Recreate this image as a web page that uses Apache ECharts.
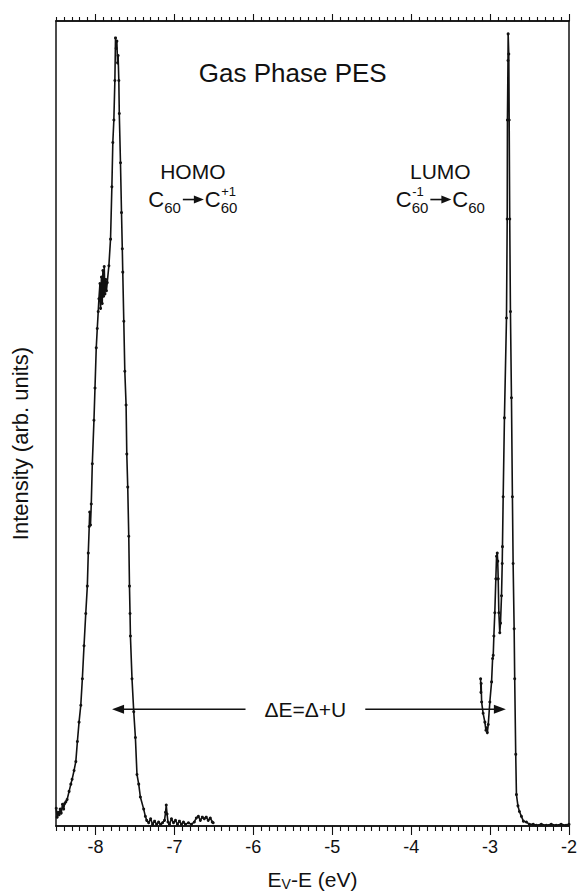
<!DOCTYPE html>
<html>
<head>
<meta charset="utf-8">
<style>
  html, body { margin: 0; padding: 0; background: #fff; }
  #chart { width: 580px; height: 896px; }
</style>
<script src="https://cdn.jsdelivr.net/npm/echarts@6/dist/echarts.min.js"></script>
</head>
<body>
<div id="chart"></div>
<script>
// Photoemission spectrum of gas-phase C60: HOMO band (C60 -> C60+) and LUMO band (C60- -> C60)
const homoEnergy = [
  -8.497, -8.485, -8.472, -8.460, -8.447, -8.434, -8.418, -8.403, -8.390, -8.375,
  -8.359, -8.334, -8.312, -8.296, -8.271, -8.249, -8.229, -8.208, -8.186, -8.166,
  -8.145, -8.123, -8.103, -8.091, -8.079, -8.073, -8.063, -8.053, -8.040, -8.019,
  -8.006, -7.990, -7.977, -7.965, -7.956, -7.943, -7.935, -7.924, -7.914, -7.906,
  -7.897, -7.889, -7.880, -7.872, -7.861, -7.851, -7.830, -7.809, -7.792, -7.780,
  -7.767, -7.754, -7.746, -7.738, -7.729, -7.720, -7.713, -7.704, -7.698, -7.683,
  -7.670, -7.660, -7.654, -7.641, -7.628, -7.612, -7.603, -7.591, -7.578, -7.569,
  -7.562, -7.557, -7.537, -7.515, -7.494, -7.474, -7.452, -7.431, -7.389, -7.368,
  -7.351, -7.326, -7.301, -7.276, -7.251, -7.225, -7.200, -7.175, -7.150, -7.125,
  -7.112, -7.103, -7.093, -7.081, -7.062, -7.037, -7.011, -6.986, -6.961, -6.936,
  -6.911, -6.885, -6.860, -6.822, -6.785, -6.747, -6.722, -6.696, -6.671, -6.646,
  -6.621, -6.596, -6.571, -6.545, -6.520, -6.508
];
const homoIntensity = [
  2.2, 1.1, 1.7, 1.4, 2.1, 1.6, 2.7, 2.1, 2.8, 3.0,
  3.3, 4.3, 5.2, 5.8, 6.9, 8.0, 10.5, 12.9, 15.0, 18.3,
  22.4, 26.4, 29.8, 33.9, 37.2, 39.0, 37.4, 40.0, 45.0, 50.4,
  54.4, 59.4, 61.8, 63.9, 65.5, 67.4, 64.3, 68.2, 64.9, 69.0,
  65.8, 69.5, 66.1, 67.9, 66.5, 67.5, 69.6, 72.9, 79.4, 84.9,
  87.7, 92.6, 97.9, 96.6, 97.5, 94.8, 95.7, 92.6, 88.5, 82.4,
  76.2, 71.7, 68.8, 62.7, 56.5, 52.3, 46.2, 42.1, 36.0, 29.8,
  26.4, 23.6, 18.3, 14.2, 11.0, 6.4, 5.2, 3.6, 2.1, 1.2,
  0.7, 0.4, 0.9, 0.2, 0.6, 0.2, 0.5, 0.2, 0.4, 0.7,
  1.7, 2.6, 1.5, 0.5, 0.2, 0.9, 0.4, 0.7, 0.2, 0.6,
  0.2, 0.5, 0.2, 0.4, 0.2, 0.5, 1.0, 1.2, 0.7, 1.1,
  0.9, 1.1, 0.7, 1.0, 0.5, 0.4
];
const lumoEnergy = [
  -3.120, -3.116, -3.113, -3.107, -3.088, -3.066, -3.053, -3.044, -3.035, -3.023,
  -3.003, -2.981, -2.968, -2.960, -2.952, -2.940, -2.927, -2.918, -2.909, -2.903,
  -2.897, -2.889, -2.877, -2.868, -2.855, -2.846, -2.843, -2.834, -2.818, -2.792,
  -2.783, -2.780, -2.773, -2.771, -2.763, -2.758, -2.751, -2.742, -2.729, -2.717,
  -2.708, -2.695, -2.688, -2.675, -2.666, -2.647, -2.628, -2.603, -2.578, -2.540,
  -2.502, -2.453, -2.414, -2.351, -2.288, -2.225, -2.163, -2.100, -2.037, -2.000
];
const lumoIntensity = [
  18.3, 16.6, 17.7, 15.4, 14.0, 12.9, 11.9, 12.2, 11.6, 12.6,
  15.4, 17.9, 20.8, 21.2, 23.6, 26.5, 30.7, 33.5, 33.9, 32.9,
  30.7, 26.5, 24.0, 25.2, 28.6, 32.6, 34.7, 40.9, 50.7, 63.1,
  75.4, 87.7, 95.1, 98.4, 95.9, 87.7, 75.4, 63.9, 53.2, 40.9,
  32.6, 24.5, 18.3, 8.9, 3.9, 2.5, 1.8, 1.2, 0.6, 0.5,
  0.2, 0.2, 0.1, 0.2, 0.1, 0.2, 0.1, 0.2, 0.1, 0.2
];

// Energy axis: labelled whole-eV ticks plus 0.1 eV minor ticks
const majorTicks = [-8, -7, -6, -5, -4, -3, -2];
const minorTicks = [];
for (let k = -85; k <= -20; k++) {
  if (k % 10 !== 0) minorTicks.push(k / 10);
}
const xRange = [-8.5, -2];

// Gap covered by the double arrow: HOMO onset side to LUMO side
const gapArrow = { from: -7.79, to: -2.80, level: 14.5, textAt: -5.34, text: 'ΔE=Δ+U' };

const FONT = '"Liberation Sans", Arial, Helvetica, sans-serif';
const INK = '#111';

const pair = (xs, ys) => xs.map((x, i) => [x, ys[i]]);

function energyAxis(position, ticks, len, showLabels) {
  return {
    type: 'value', position, min: xRange[0], max: xRange[1],
    axisLine: { show: true, onZero: false, lineStyle: { color: INK, width: 1.5 } },
    axisTick: { show: true, customValues: ticks, length: len, lineStyle: { color: INK, width: 1.1 } },
    axisLabel: showLabels ? {
      show: true, customValues: majorTicks, color: INK, fontSize: 18, fontFamily: FONT, margin: 12,
      formatter: v => String(Math.round(v))
    } : { show: false },
    splitLine: { show: false }
  };
}

const chart = echarts.init(document.getElementById('chart'), null, { renderer: 'svg' });

const lineSeries = (name, data) => ({
  name, type: 'line', data,
  xAxisIndex: 0, yAxisIndex: 0,
  showSymbol: true, symbol: 'circle', symbolSize: 3,
  itemStyle: { color: INK },
  lineStyle: { color: INK, width: 1.6 },
  animation: false
});

const bottomMajor = energyAxis('bottom', majorTicks, 9, true);
bottomMajor.name = '{m|E}{s|V}{m|-E (eV)}';
bottomMajor.nameLocation = 'middle';
bottomMajor.nameGap = 41;
bottomMajor.nameTextStyle = {
  rich: {
    m: { fontSize: 21, fontFamily: FONT, color: INK },
    s: { fontSize: 14, fontFamily: FONT, color: INK, padding: [10, 0, 0, 0] }
  }
};

chart.setOption({
  backgroundColor: '#fff',
  animation: false,
  grid: { left: 56, right: 7, top: 21, bottom: 64 },
  xAxis: [
    energyAxis('bottom', minorTicks, 5, false),
    bottomMajor,
    energyAxis('top', minorTicks, 4, false),
    energyAxis('top', majorTicks, 7, false)
  ],
  yAxis: [
    {
      type: 'value', min: 0, max: 100, position: 'left',
      axisLine: { show: true, lineStyle: { color: INK, width: 1.5 } },
      axisTick: { show: false }, axisLabel: { show: false }, splitLine: { show: false }
    },
    {
      type: 'value', min: 0, max: 100, position: 'right',
      axisLine: { show: true, lineStyle: { color: INK, width: 1.5 } },
      axisTick: { show: false }, axisLabel: { show: false }, splitLine: { show: false }
    }
  ],
  series: [
    lineSeries('HOMO', pair(homoEnergy, homoIntensity)),
    lineSeries('LUMO', pair(lumoEnergy, lumoIntensity))
  ]
});

// ---- annotations ----
const toPx = (x, y) => chart.convertToPixel({ xAxisIndex: 0, yAxisIndex: 0 }, [x, y]);
const measureCtx = document.createElement('canvas').getContext('2d');
function textWidth(txt, size) {
  measureCtx.font = size + 'px ' + FONT;
  return measureCtx.measureText(txt).width;
}
function txt(x, y, text, size, align) {
  return {
    type: 'text', x, y, silent: true,
    style: { text, fontSize: size, fontFamily: FONT, fill: INK, align: align || 'left', verticalAlign: 'middle' }
  };
}
function arrowHead(tipX, y, dir, len, half) {
  return {
    type: 'polygon', silent: true,
    shape: { points: [[tipX, y], [tipX - dir * len, y - half], [tipX - dir * len, y + half]] },
    style: { fill: INK }
  };
}
function hline(x1, x2, y, w) {
  return { type: 'line', silent: true, shape: { x1, y1: y, x2, y2: y }, style: { stroke: INK, lineWidth: w } };
}

// Chemical formula such as C60 -> C60(+1); pieces laid out left to right, centred on cx
function formula(cx, cy, pieces) {
  const big = 22, sub = 15, sup = 13;
  const widths = pieces.map(p => {
    if (p.arrow) return 24;
    if (p.main) return textWidth(p.main, big);
    return Math.max(textWidth(p.sub || '', sub), textWidth(p.sup || '', sup));
  });
  const total = widths.reduce((a, b) => a + b, 0);
  let x = cx - total / 2;
  const els = [];
  pieces.forEach((p, i) => {
    if (p.arrow) {
      els.push(hline(x + 2, x + 14, cy, 1.6));
      els.push(arrowHead(x + 23, cy, 1, 10, 4));
    } else if (p.main) {
      els.push(txt(x, cy, p.main, big));
    } else {
      if (p.sub) els.push(txt(x, cy + 8, p.sub, sub));
      if (p.sup) els.push(txt(x + 0.5, cy - 8, p.sup, sup));
    }
    x += widths[i];
  });
  return els;
}

function drawAnnotations() {
  const els = [];
  const title = toPx(-5.5, 93.5);
  els.push(txt(title[0], title[1], 'Gas Phase PES', 26, 'center'));

  const homo = toPx(-6.766, 81.3);
  els.push(txt(homo[0], homo[1], 'HOMO', 21, 'center'));
  els.push(...formula(homo[0], homo[1] + 28, [
    { main: 'C' }, { sub: '60' }, { arrow: true }, { main: 'C' }, { sub: '60', sup: '+1' }
  ]));

  const lumo = toPx(-3.63, 81.3);
  els.push(txt(lumo[0], lumo[1], 'LUMO', 21, 'center'));
  els.push(...formula(lumo[0], lumo[1] + 28, [
    { main: 'C' }, { sub: '60', sup: '-1' }, { arrow: true }, { main: 'C' }, { sub: '60' }
  ]));

  // ΔE double arrow with a break for its label
  const a = toPx(gapArrow.from, gapArrow.level);
  const b = toPx(gapArrow.to, gapArrow.level);
  const c = toPx(gapArrow.textAt, gapArrow.level);
  const half = textWidth(gapArrow.text, 21) / 2 + 19;
  els.push(hline(a[0] + 8, c[0] - half, a[1], 1.6));
  els.push(hline(c[0] + half, b[0] - 8, b[1], 1.6));
  els.push(arrowHead(a[0], a[1], -1, 12, 4.5));
  els.push(arrowHead(b[0], b[1], 1, 12, 4.5));
  els.push(txt(c[0], c[1], gapArrow.text, 21, 'center'));

  // Intensity axis title, rotated along the left frame
  const yt = toPx(xRange[0], 47.5);
  els.push({
    type: 'text', x: 20, y: yt[1], rotation: Math.PI / 2, silent: true,
    style: { text: 'Intensity (arb. units)', fontSize: 22, fontFamily: FONT, fill: INK, align: 'center', verticalAlign: 'middle' }
  });

  chart.setOption({ graphic: { elements: els } });
}
drawAnnotations();
</script>
</body>
</html>
